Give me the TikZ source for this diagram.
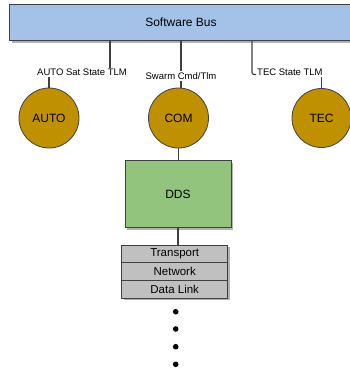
\documentclass[tikz,border=0pt]{standalone}
\usepackage{fontspec}
\setmainfont{Liberation Sans}
\usetikzlibrary{positioning,shadows}

\definecolor{busblue}{HTML}{A4C2E8}
\definecolor{appgold}{HTML}{BF9000}
\definecolor{ddsgreen}{HTML}{93C47D}
\definecolor{layergray}{HTML}{C0C0C0}
\definecolor{edgegray}{HTML}{404040}

\begin{document}
\begin{tikzpicture}[x=1pt,y=-1pt,
  wire/.style={draw=edgegray, line width=1.1pt},
  boxshadow/.style={drop shadow={shadow xshift=2pt, shadow yshift=-2pt, fill=black!30, opacity=1}},
  app/.style={circle, draw=edgegray, line width=0.8pt, fill=appgold, minimum size=60pt, inner sep=0pt, font=\fontsize{12}{14}\selectfont},
  tlm/.style={inner sep=1pt, font=\fontsize{9.5}{11}\selectfont},
  layer/.style={rectangle, draw=edgegray, line width=0.8pt, fill=layergray, minimum width=106pt, minimum height=17.7pt, inner sep=0pt, outer sep=0pt, font=\fontsize{11.5}{13}\selectfont},
  dot/.style={circle, fill=black, minimum size=5.6pt, inner sep=0pt}]
  \useasboundingbox (0,0) rectangle (349,373);

  % Software bus (runs off the right side)
  \node[rectangle, draw=edgegray, line width=0.8pt, fill=busblue, boxshadow,
        minimum width=343pt, minimum height=36.7pt, inner sep=0pt,
        font=\fontsize{12}{14}\selectfont] (bus) at (181,22.3) {Software Bus};

  % Taps off the bus
  \coordinate (autotap) at (110,0);
  \coordinate (tectap) at (252,0);

  % Message labels
  \node[tlm] (autotlm) at (82,72.5) {AUTO Sat State TLM};
  \node[tlm] (swarmtlm) at (181,76) {Swarm Cmd/Tlm};
  \node[tlm, anchor=west] (tectlm) at (256,72.5) {TEC State TLM};

  % Apps
  \node[app] (auto) at (49,118) {AUTO};
  \node[app] (com) at (178.5,118) {COM};
  \node[app, minimum size=59pt] (tec) at (321.5,118) {TEC};

  % DDS and the layers below it
  \node[rectangle, draw=edgegray, line width=0.8pt, fill=ddsgreen, boxshadow,
        minimum width=106pt, minimum height=67pt, inner sep=0pt,
        font=\fontsize{12}{14}\selectfont] (dds) at (178,194.2) {DDS};
  \node[layer, boxshadow] (transport) at (174.7,253.9) {Transport};
  \node[layer, boxshadow, below=0pt of transport] (network) {Network};
  \node[layer, boxshadow, below=0pt of network] (datalink) {Data Link};

  \foreach \y [count=\i] in {311.7,329,346.7,364.3}
    \node[dot] (dot\i) at (175.7,\y) {};

  % Connectors
  \draw[wire] (bus.south -| autotap) -- (autotlm.north -| autotap);
  \draw[wire] (autotlm.south -| auto) -- (auto.north);
  \draw[wire] (bus.south -| swarmtlm) -- (swarmtlm.north);
  \draw[wire] (swarmtlm.south) -- (swarmtlm.south |- com.north);
  \draw[wire, rounded corners=2pt] (bus.south -| tectap) |- ([yshift=-2pt]tectlm.west);
  \draw[wire] (tectlm.south -| tec) -- (tec.north);
  \draw[wire] (com.south) -- (com.south |- dds.north);
  \draw[wire] (dds.south) -- (dds.south |- transport.north);
\end{tikzpicture}
\end{document}
